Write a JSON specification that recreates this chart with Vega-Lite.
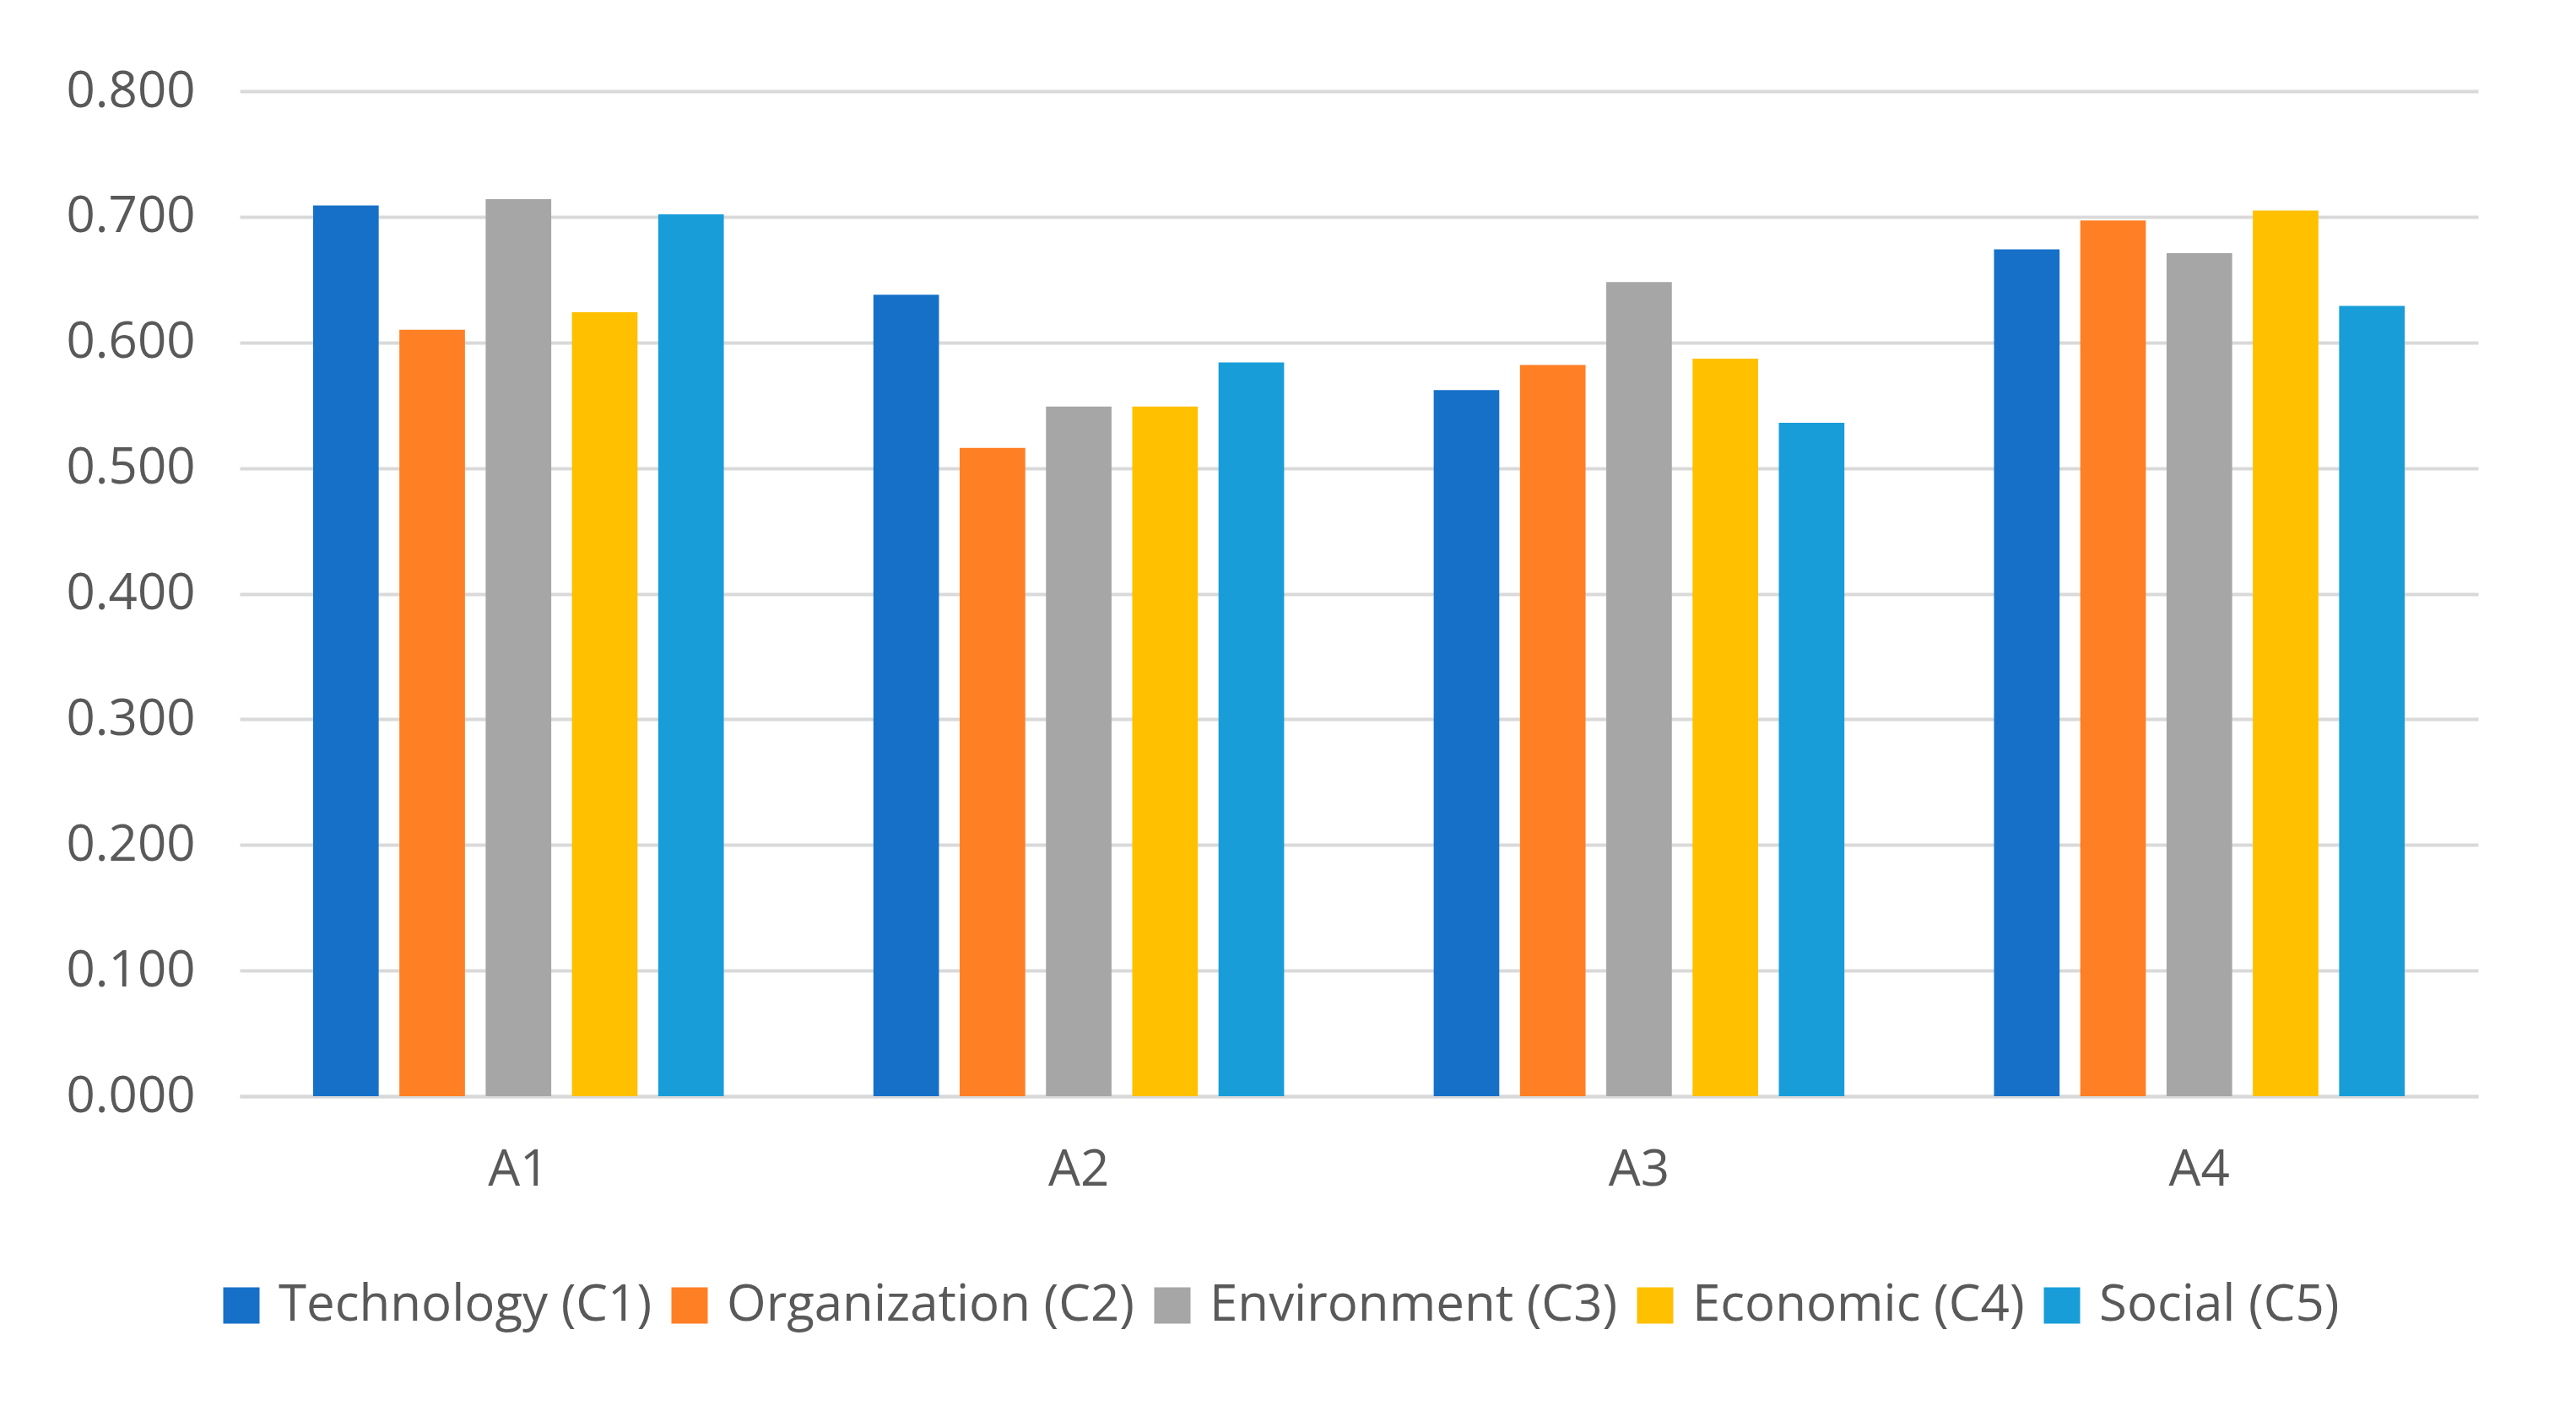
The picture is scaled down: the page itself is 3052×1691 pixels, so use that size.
{
  "$schema": "https://vega.github.io/schema/vega-lite/v6.json",
  "width": 2652,
  "height": 1191,
  "autosize": "none",
  "padding": {"left": 284, "top": 108, "right": 116, "bottom": 392},
  "background": "white",
  "config": {
    "font": "Open Sans",
    "view": {"stroke": null}
  },
  "data": {
    "values": [
      {"alt": "A1", "criterion": "Technology (C1)", "value": 0.709},
      {"alt": "A1", "criterion": "Organization (C2)", "value": 0.610},
      {"alt": "A1", "criterion": "Environment (C3)", "value": 0.714},
      {"alt": "A1", "criterion": "Economic (C4)", "value": 0.624},
      {"alt": "A1", "criterion": "Social (C5)", "value": 0.702},
      {"alt": "A2", "criterion": "Technology (C1)", "value": 0.638},
      {"alt": "A2", "criterion": "Organization (C2)", "value": 0.516},
      {"alt": "A2", "criterion": "Environment (C3)", "value": 0.549},
      {"alt": "A2", "criterion": "Economic (C4)", "value": 0.549},
      {"alt": "A2", "criterion": "Social (C5)", "value": 0.584},
      {"alt": "A3", "criterion": "Technology (C1)", "value": 0.562},
      {"alt": "A3", "criterion": "Organization (C2)", "value": 0.582},
      {"alt": "A3", "criterion": "Environment (C3)", "value": 0.648},
      {"alt": "A3", "criterion": "Economic (C4)", "value": 0.587},
      {"alt": "A3", "criterion": "Social (C5)", "value": 0.536},
      {"alt": "A4", "criterion": "Technology (C1)", "value": 0.674},
      {"alt": "A4", "criterion": "Organization (C2)", "value": 0.697},
      {"alt": "A4", "criterion": "Environment (C3)", "value": 0.671},
      {"alt": "A4", "criterion": "Economic (C4)", "value": 0.705},
      {"alt": "A4", "criterion": "Social (C5)", "value": 0.629}
    ]
  },
  "mark": {"type": "bar"},
  "encoding": {
    "x": {
      "field": "alt",
      "type": "nominal",
      "scale": {"paddingInner": 0.267, "paddingOuter": 0.131},
      "axis": {
        "title": null,
        "labelAngle": 0,
        "labelFontSize": 60,
        "labelColor": "#595959",
        "labelPadding": 58,
        "ticks": false,
        "domainColor": "#d9d9d9",
        "domainWidth": 4,
        "grid": false
      }
    },
    "xOffset": {
      "field": "criterion",
      "type": "nominal",
      "sort": ["Technology (C1)", "Organization (C2)", "Environment (C3)", "Economic (C4)", "Social (C5)"],
      "scale": {"paddingInner": 0.24, "paddingOuter": 0}
    },
    "y": {
      "field": "value",
      "type": "quantitative",
      "scale": {"domain": [0, 0.8], "nice": false},
      "axis": {
        "title": null,
        "values": [0, 0.1, 0.2, 0.3, 0.4, 0.5, 0.6, 0.7, 0.8],
        "format": ".3f",
        "labelFontSize": 60,
        "labelColor": "#595959",
        "labelPadding": 53,
        "ticks": false,
        "domain": false,
        "gridColor": "#d9d9d9",
        "gridWidth": 4
      }
    },
    "color": {
      "field": "criterion",
      "type": "nominal",
      "scale": {
        "domain": ["Technology (C1)", "Organization (C2)", "Environment (C3)", "Economic (C4)", "Social (C5)"],
        "range": ["#1670C8", "#FF7F24", "#A6A6A6", "#FFC000", "#189DD8"]
      },
      "legend": {
        "title": null,
        "orient": "none",
        "direction": "horizontal",
        "legendX": -28,
        "legendY": 1409,
        "symbolType": "square",
        "symbolSize": 1850,
        "symbolStrokeWidth": 0,
        "labelFontSize": 60,
        "labelColor": "#595959",
        "labelOffset": 14,
        "columnPadding": 14,
        "labelLimit": 1000
      }
    }
  }
}
